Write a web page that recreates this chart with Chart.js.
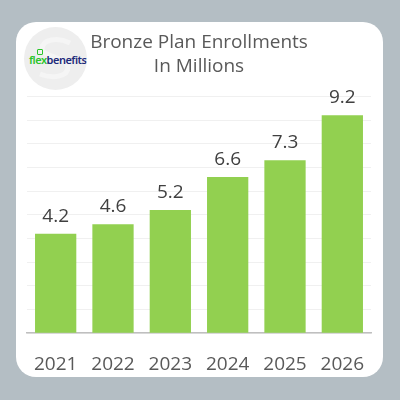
<!DOCTYPE html>
<html>
<head>
<meta charset="utf-8">
<script src="https://cdn.jsdelivr.net/npm/chart.js@4"></script>
<style>
  html, body { margin: 0; padding: 0; }
  body { width: 400px; height: 400px; background: #b4bec4; position: relative; overflow: hidden; font-family: "Open Sans", sans-serif; }
  .card { position: absolute; left: 16px; top: 22px; width: 367px; height: 355px; background: #fff; border-radius: 20px; }
  .logo { position: absolute; left: 24px; top: 27px; width: 63px; height: 63px; border-radius: 50%; background: #eeeeee; overflow: hidden; }
  .logo svg { position: absolute; left: 0; top: 0; }
  .logo .txt { position: absolute; left: 5px; top: 25px; font-size: 11px; font-weight: 600; letter-spacing: -0.5px; font-family: "Noto Sans", sans-serif; white-space: nowrap; }
  .logo .g { color: #2bc42b; }
  .logo .b { color: #1d2a7a; }
  .logo i { position: absolute; left: 13px; top: 22px; width: 6px; height: 6px; border: 1.2px solid #2bc42b; border-radius: 1px; box-sizing: border-box; }
  canvas { position: absolute; left: 0; top: 0; }
</style>
</head>
<body>
<div class="card"></div>
<div class="logo">
  <svg width="63" height="63"><path d="M46 16 C34 10 18 12 18 22 C18 30 44 30 44 40 C44 50 28 52 16 47" fill="none" stroke="#f5f5f5" stroke-width="5"/></svg>
  <i></i>
  <span class="txt"><span class="g">flex</span><span class="b">benefits</span></span>
</div>
<canvas id="myChart" width="400" height="400"></canvas>
<script>
  // chart data
  const years = ['2021', '2022', '2023', '2024', '2025', '2026'];
  const enrollments = [4.2, 4.6, 5.2, 6.6, 7.3, 9.2];
  const titleLines = ['Bronze Plan Enrollments', 'In Millions'];

  // value labels above bars
  const barLabels = {
    id: 'barLabels',
    afterDatasetsDraw(chart) {
      const ctx = chart.ctx;
      ctx.save();
      ctx.font = '19px "Open Sans", sans-serif';
      ctx.fillStyle = '#404040';
      ctx.textAlign = 'center';
      ctx.textBaseline = 'alphabetic';
      chart.getDatasetMeta(0).data.forEach((bar, i) => {
        ctx.fillText(enrollments[i].toFixed(1), bar.x, bar.y - 12);
      });
      ctx.restore();
    }
  };

  const config = {
    type: 'bar',
    data: {
      labels: years,
      datasets: [{
        data: enrollments,
        backgroundColor: '#92d050',
      }]
    },
    options: {
      responsive: false,
      animation: false,
      layout: { padding: { left: 27, right: 29, bottom: 12 } },
      plugins: {
        legend: { display: false },
        tooltip: { enabled: false },
        title: {
          display: true,
          text: titleLines,
          color: '#595959',
          font: { size: 19, family: '"Open Sans", sans-serif', weight: 'normal', lineHeight: 1.3 },
          padding: { top: 30, bottom: 17 },
        },
      },
      scales: {
        x: {
          grid: { display: false },
          border: { color: '#bfbfbf', width: 1.5 },
          ticks: { color: '#595959', padding: 12, font: { size: 19, family: '"Open Sans", sans-serif' } },
        },
        y: {
          min: 0,
          max: 10,
          ticks: { display: false, stepSize: 1 },
          grid: { color: '#f0f0f0', drawTicks: false },
          border: { display: false },
        }
      }
    },
    plugins: [barLabels]
  };

  var myChart = new Chart(document.getElementById('myChart'), config);
</script>
</body>
</html>
